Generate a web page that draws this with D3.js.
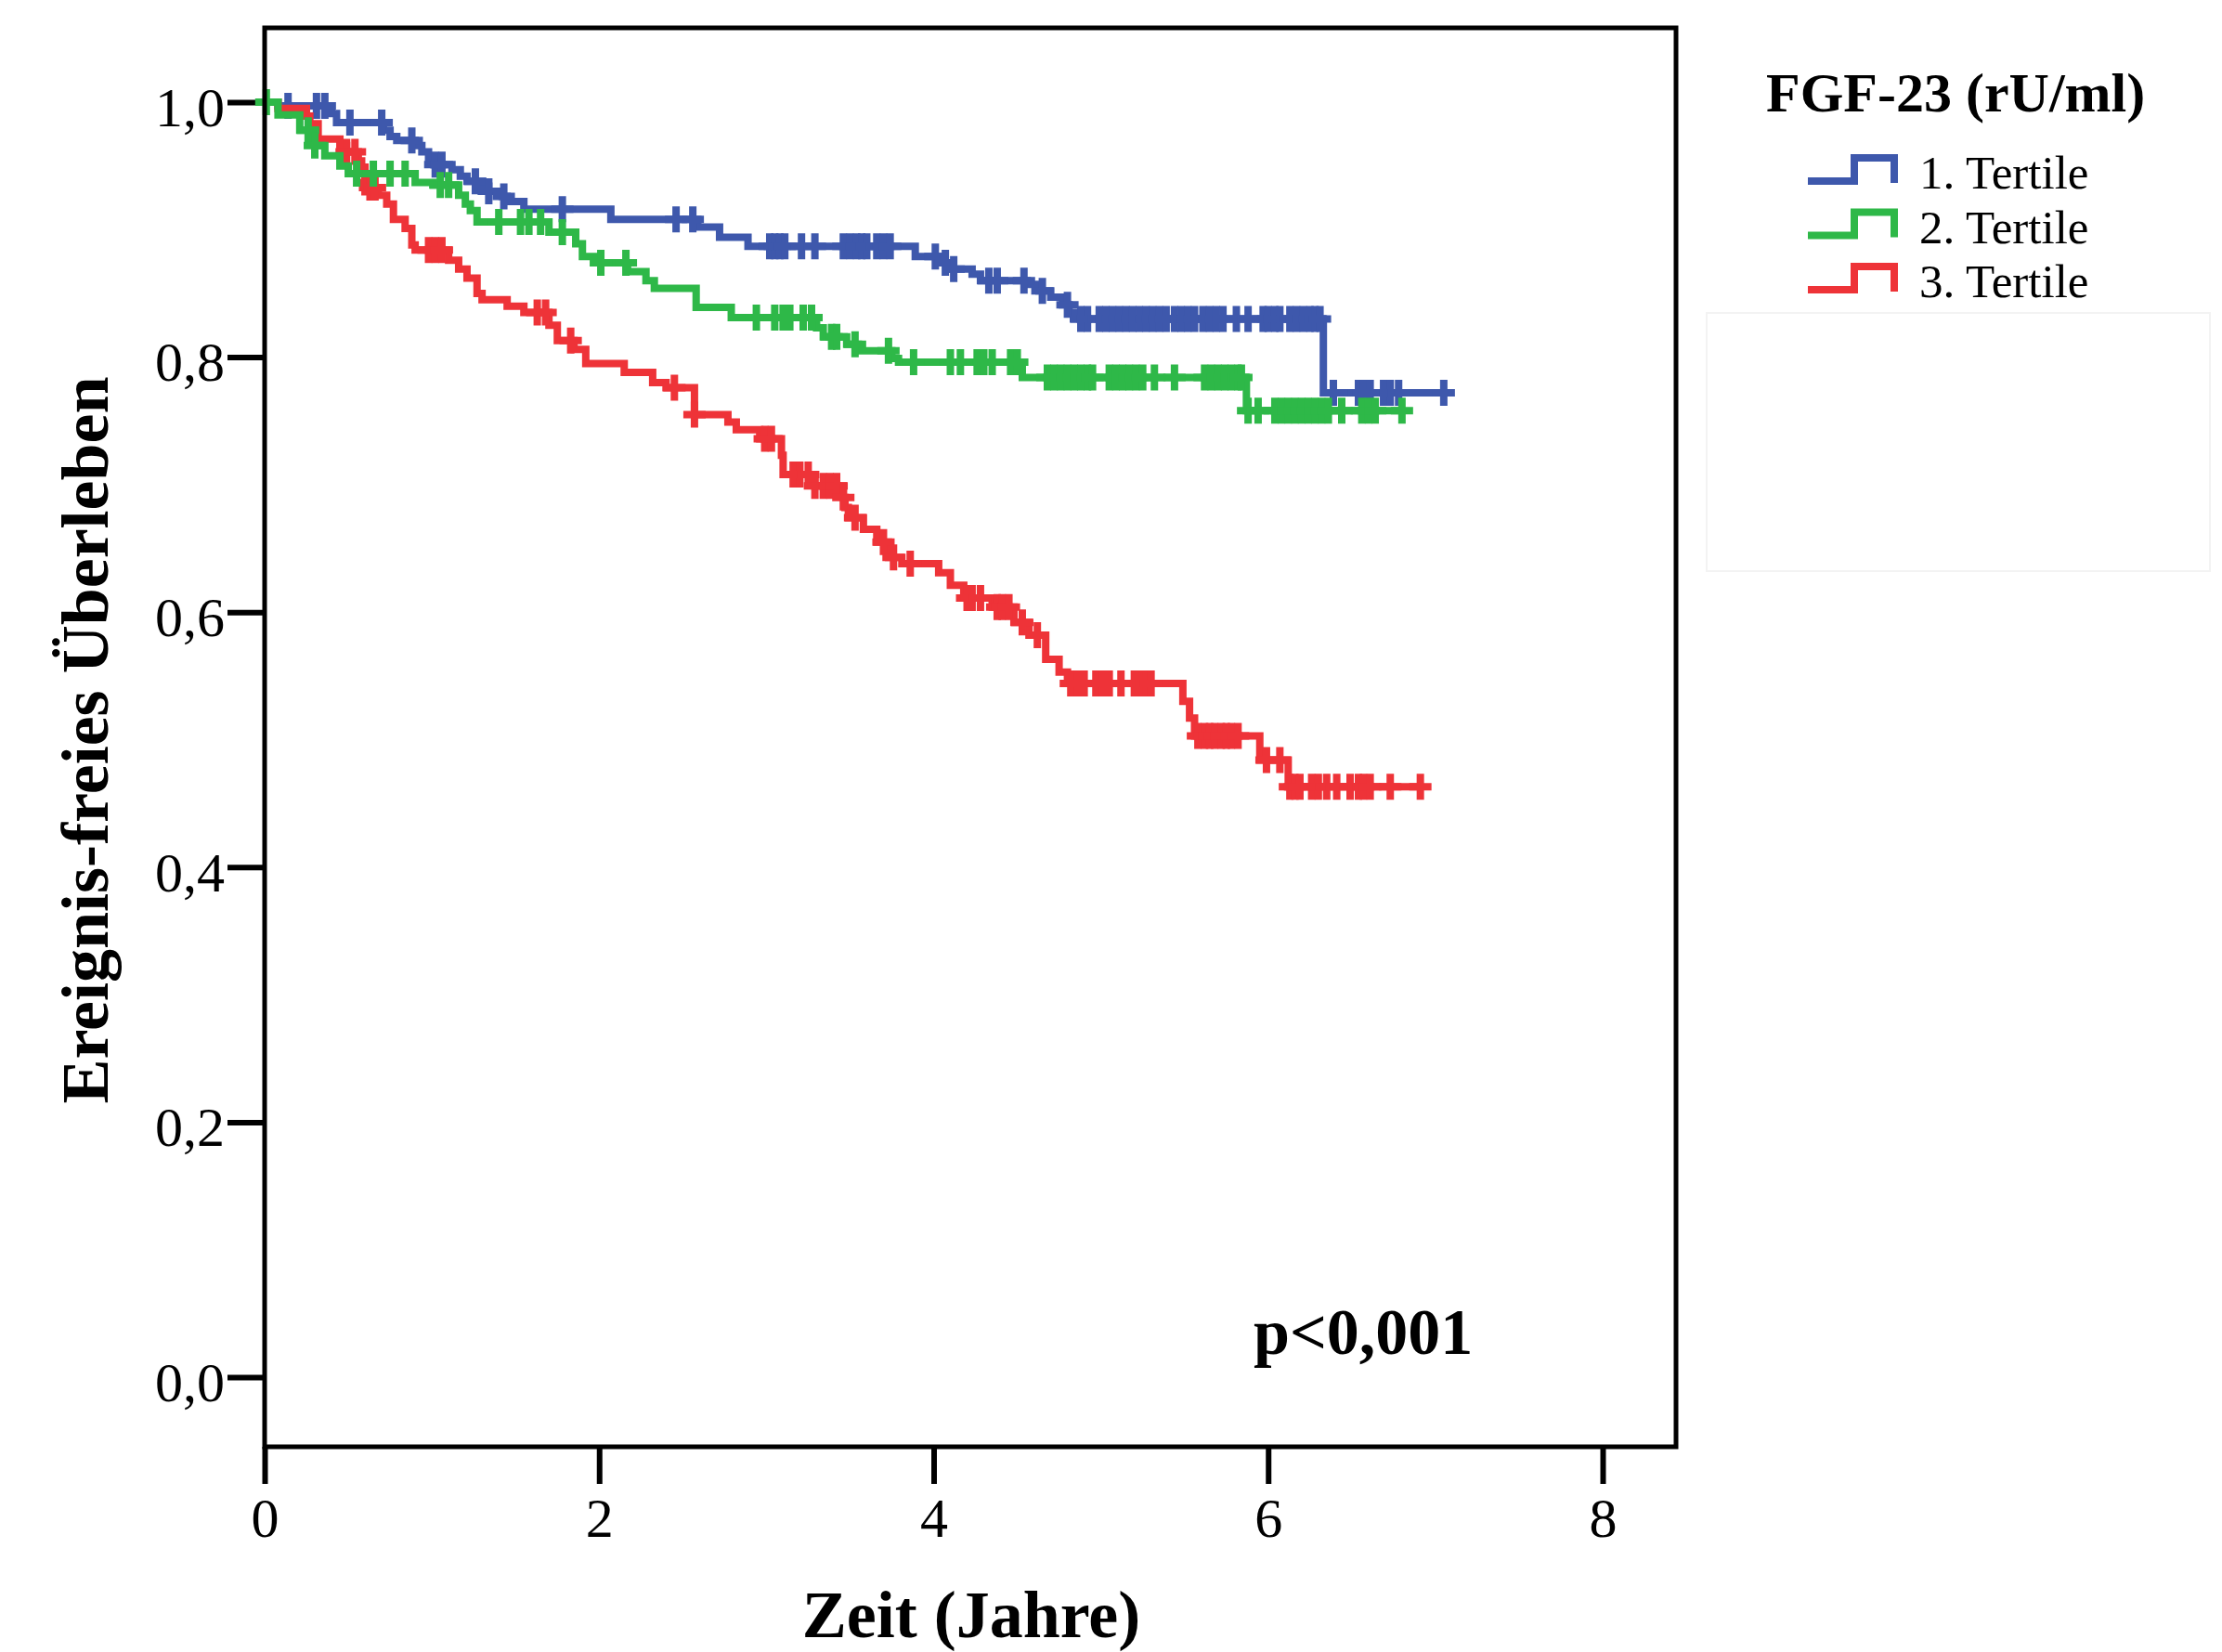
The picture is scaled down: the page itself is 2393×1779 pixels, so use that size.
<!DOCTYPE html>
<html>
<head>
<meta charset="utf-8">
<script src="https://cdnjs.cloudflare.com/ajax/libs/d3/7.8.5/d3.min.js"></script>
<style>
    body { margin: 0; background: #ffffff; }
    svg { display: block; font-family: "Liberation Serif", "Times New Roman", serif; }
</style>
</head>
<body>
<svg id="drawing_region"></svg>
<script>
// ---- data ----
const groupNames = ["1. Tertile", "2. Tertile", "3. Tertile"];
const groupColors = ["#3e58ac", "#2eb848", "#ee3338"];
const legendTitle = "FGF-23 (rU/ml)";
const xTicks = [0, 2, 4, 6, 8];
const yTicks = [0, 0.2, 0.4, 0.6, 0.8, 1.0];
const xTitle = "Zeit (Jahre)";
const yTitle = "Ereignis-freies Überleben";
const pText = "p<0,001";

// 1. Tertile
const t1Times = [0, 0.08, 0.40, 0.43, 0.71, 0.75, 0.79, 0.90, 0.94, 0.98, 1.01, 1.12, 1.17, 1.21, 1.30, 1.34, 1.42, 1.45, 1.55, 2.07, 2.59, 2.72, 2.89, 3.89, 4.03, 4.11, 4.23, 4.28, 4.56, 4.63, 4.70, 4.77, 4.81, 4.84, 6.33];
const t1Surv  = [1, 0.997, 0.991, 0.984, 0.978, 0.973, 0.970, 0.966, 0.961, 0.956, 0.951, 0.947, 0.942, 0.938, 0.934, 0.930, 0.926, 0.922, 0.916, 0.908, 0.902, 0.894, 0.887, 0.879, 0.874, 0.869, 0.865, 0.860, 0.857, 0.852, 0.847, 0.841, 0.835, 0.830, 0.772];
const t1Censor = [0.14, 0.31, 0.36, 0.51, 0.70, 0.88, 1.02, 1.06, 1.26, 1.34, 1.43, 1.78, 2.46, 2.56, 3.02, 3.05, 3.08, 3.11, 3.21, 3.29, 3.46, 3.50, 3.54, 3.57, 3.60, 3.66, 3.70, 3.74, 4.01, 4.07, 4.12, 4.33, 4.38, 4.54, 4.65, 4.80, 4.88, 4.92, 4.99, 5.03, 5.07, 5.11, 5.15, 5.19, 5.23, 5.27, 5.31, 5.35, 5.39, 5.44, 5.48, 5.52, 5.56, 5.61, 5.65, 5.69, 5.73, 5.81, 5.88, 5.97, 6.00, 6.04, 6.07, 6.13, 6.17, 6.21, 6.25, 6.28, 6.31, 6.39, 6.54, 6.57, 6.61, 6.69, 6.73, 6.78, 7.05];

// 2. Tertile
const t2Times = [0, 0.08, 0.21, 0.30, 0.36, 0.45, 0.50, 0.90, 1.01, 1.16, 1.20, 1.23, 1.27, 1.70, 1.86, 1.90, 2.00, 2.17, 2.28, 2.33, 2.58, 2.79, 3.30, 3.34, 3.48, 3.55, 3.75, 3.79, 4.53, 5.87];
const t2Surv  = [1, 0.990, 0.978, 0.966, 0.958, 0.950, 0.944, 0.937, 0.935, 0.927, 0.920, 0.915, 0.906, 0.898, 0.889, 0.879, 0.874, 0.867, 0.860, 0.854, 0.839, 0.831, 0.823, 0.816, 0.810, 0.805, 0.799, 0.796, 0.784, 0.758];
const t2Censor = [0.01, 0.26, 0.30, 0.55, 0.65, 0.75, 0.84, 1.05, 1.10, 1.40, 1.53, 1.58, 1.65, 1.78, 2.01, 2.16, 2.94, 3.05, 3.10, 3.14, 3.22, 3.27, 3.39, 3.42, 3.53, 3.73, 3.88, 4.10, 4.16, 4.26, 4.30, 4.35, 4.46, 4.50, 4.68, 4.72, 4.76, 4.80, 4.84, 4.88, 4.92, 4.95, 5.05, 5.09, 5.13, 5.17, 5.21, 5.25, 5.32, 5.44, 5.62, 5.66, 5.70, 5.74, 5.78, 5.82, 5.84, 5.88, 5.94, 6.04, 6.08, 6.12, 6.16, 6.20, 6.24, 6.28, 6.32, 6.36, 6.44, 6.56, 6.60, 6.64, 6.80];

// 3. Tertile
const t3Times = [0, 0.08, 0.25, 0.27, 0.32, 0.45, 0.49, 0.56, 0.58, 0.60, 0.62, 0.68, 0.73, 0.77, 0.84, 0.88, 0.90, 1.10, 1.16, 1.21, 1.27, 1.30, 1.45, 1.55, 1.70, 1.75, 1.85, 1.92, 2.15, 2.32, 2.40, 2.57, 2.77, 2.82, 2.96, 3.09, 3.10, 3.29, 3.46, 3.47, 3.49, 3.58, 3.66, 3.73, 3.81, 4.03, 4.10, 4.18, 4.35, 4.48, 4.57, 4.67, 4.75, 4.80, 5.49, 5.53, 5.56, 5.95, 6.12];
const t3Surv  = [1, 0.995, 0.989, 0.983, 0.971, 0.966, 0.961, 0.954, 0.949, 0.937, 0.933, 0.927, 0.920, 0.908, 0.901, 0.888, 0.884, 0.876, 0.869, 0.862, 0.850, 0.845, 0.840, 0.835, 0.825, 0.813, 0.806, 0.795, 0.788, 0.780, 0.776, 0.755, 0.749, 0.743, 0.736, 0.723, 0.708, 0.699, 0.690, 0.682, 0.674, 0.665, 0.655, 0.643, 0.638, 0.631, 0.621, 0.611, 0.604, 0.592, 0.582, 0.563, 0.553, 0.544, 0.530, 0.517, 0.503, 0.484, 0.463];
const t3Censor = [0.49, 0.54, 0.60, 0.63, 0.66, 0.98, 1.02, 1.06, 1.63, 1.68, 1.83, 2.45, 2.57, 2.99, 3.03, 3.16, 3.20, 3.25, 3.29, 3.34, 3.38, 3.42, 3.46, 3.53, 3.70, 3.76, 3.86, 4.20, 4.23, 4.28, 4.38, 4.41, 4.45, 4.53, 4.62, 4.82, 4.86, 4.90, 4.97, 5.01, 5.05, 5.12, 5.20, 5.24, 5.27, 5.30, 5.58, 5.62, 5.65, 5.68, 5.72, 5.75, 5.78, 5.82, 5.99, 6.07, 6.13, 6.16, 6.19, 6.26, 6.30, 6.35, 6.41, 6.49, 6.54, 6.57, 6.61, 6.73, 6.91];

const series = [
    { name: groupNames[0], color: groupColors[0], times: t1Times, surv: t1Surv, censor: t1Censor },
    { name: groupNames[1], color: groupColors[1], times: t2Times, surv: t2Surv, censor: t2Censor },
    { name: groupNames[2], color: groupColors[2], times: t3Times, surv: t3Surv, censor: t3Censor }
];

class KMPlot {

    constructor( config, data ) {
        this.config = {
            parent: config.parent,
            width: config.width || 2393,
            height: config.height || 1779,
            margin: config.margin || {top:30, right:588, bottom:221, left:285}
        };
        this.data = data;
        this.init();
    }

    init() {
        let self = this;

        self.svg = d3.select( self.config.parent )
            .attr('width', self.config.width)
            .attr('height', self.config.height);

        self.chart = self.svg.append('g')
            .attr('transform', `translate(${self.config.margin.left}, ${self.config.margin.top})`);

        self.inner_width = self.config.width - self.config.margin.left - self.config.margin.right;
        self.inner_height = self.config.height - self.config.margin.top - self.config.margin.bottom;

        // 8 years = 1441px, survival 0..1 = 1373px
        self.xscale = d3.scaleLinear()
            .domain( [0, 8] )
            .range( [0, 1441] );

        self.yscale = d3.scaleLinear()
            .domain( [0, 1] )
            .range( [1453, 80] );

        self.xaxis = d3.axisBottom( self.xscale )
            .tickValues( xTicks )
            .tickSize( 40 )
            .tickPadding( 14 )
            .tickFormat( d3.format("d") );

        self.yaxis = d3.axisLeft( self.yscale )
            .tickValues( yTicks )
            .tickSize( 40 )
            .tickPadding( 3 )
            .tickFormat( d => d3.format(".1f")(d).replace(".", ",") );

        self.xaxis_group = self.chart.append('g')
            .attr('transform', `translate(0, ${self.inner_height})`);

        self.yaxis_group = self.chart.append('g');

        self.curve_group = self.chart.append('g');
    }

    survAt( s, t ) {
        let i = d3.bisectRight( s.times, t ) - 1;
        return s.surv[ Math.max(i, 0) ];
    }

    render() {
        let self = this;

        self.chart.append('rect')
            .attr('x', 0)
            .attr('y', 0)
            .attr('width', self.inner_width)
            .attr('height', self.inner_height)
            .attr('fill', 'none')
            .attr('stroke', '#000')
            .attr('stroke-width', 5);

        self.xaxis_group.call( self.xaxis );
        self.yaxis_group.call( self.yaxis );

        [self.xaxis_group, self.yaxis_group].forEach( g => {
            g.select('.domain').remove();
            g.attr('font-family', null).attr('font-size', null);
            g.selectAll('line').attr('stroke', '#000').attr('stroke-width', 6);
            g.selectAll('text')
                .attr('fill', '#000')
                .attr('font-size', '60px');
        });
        self.yaxis_group.selectAll('text').attr('dy', '0.42em');

        const line = d3.line()
            .x( d => self.xscale( d[0] ) )
            .y( d => self.yscale( d[1] ) )
            .curve( d3.curveStepAfter );

        const order = [self.data[0], self.data[2], self.data[1]];
        order.forEach( s => {
            let pts = s.times.map( (t, i) => [t, s.surv[i]] );
            let end = d3.max( s.censor );
            pts.push( [end, s.surv[s.surv.length - 1]] );

            let g = self.curve_group.append('g');

            g.append('path')
                .attr('d', line( pts ))
                .attr('fill', 'none')
                .attr('stroke', s.color)
                .attr('stroke-width', 8)
                .attr('stroke-linejoin', 'miter');

            g.selectAll('path.censor')
                .data( s.censor )
                .join('path')
                .attr('class', 'censor')
                .attr('d', t => {
                    let cx = self.xscale( t ), cy = self.yscale( self.survAt( s, t ) );
                    return `M${cx - 12},${cy}H${cx + 12}M${cx},${cy - 14}V${cy + 14}`;
                })
                .attr('fill', 'none')
                .attr('stroke', s.color)
                .attr('stroke-width', 8);
        });

        // p value
        self.chart.append('text')
            .attr('x', 1350 - self.config.margin.left)
            .attr('y', 1458 - self.config.margin.top)
            .attr('font-size', '70px')
            .attr('font-weight', 'bold')
            .text( pText );

        // axis titles
        self.svg.append('text')
            .attr('x', 1046)
            .attr('y', 1763)
            .attr('text-anchor', 'middle')
            .attr('font-size', '72px')
            .attr('font-weight', 'bold')
            .text( xTitle );

        self.svg.append('text')
            .attr('transform', 'translate(116, 797) rotate(-90)')
            .attr('text-anchor', 'middle')
            .attr('font-size', '72px')
            .attr('font-weight', 'bold')
            .text( yTitle );

        // legend
        const legend = self.svg.append('g');

        legend.append('rect')
            .attr('x', 1838)
            .attr('y', 337)
            .attr('width', 542)
            .attr('height', 278)
            .attr('fill', 'none')
            .attr('stroke', '#f3f3f3')
            .attr('stroke-width', 2);

        legend.append('text')
            .attr('x', 1902)
            .attr('y', 120)
            .attr('font-size', '60px')
            .attr('font-weight', 'bold')
            .text( legendTitle );

        const items = legend.selectAll('g.item')
            .data( self.data )
            .join('g')
            .attr('class', 'item')
            .attr('transform', (d, i) => `translate(0, ${203 + i * 58.5})`);

        items.append('path')
            .attr('d', 'M1947,-8H1997V-33H2040V-6')
            .attr('fill', 'none')
            .attr('stroke', d => d.color)
            .attr('stroke-width', 8);

        items.append('text')
            .attr('x', 2067)
            .attr('y', 0)
            .attr('font-size', '51px')
            .text( d => d.name );
    }
}

const km_plot = new KMPlot( { parent: '#drawing_region', width: 2393, height: 1779 }, series );
km_plot.render();
</script>
</body>
</html>
